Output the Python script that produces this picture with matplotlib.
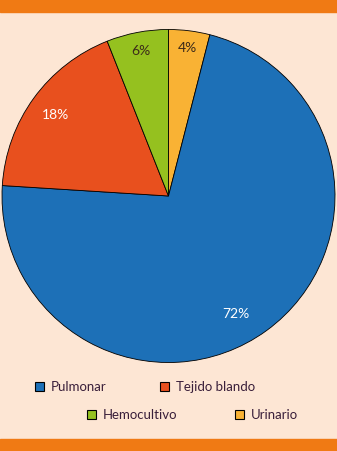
import numpy as np
import matplotlib.pyplot as plt
from matplotlib.patches import Rectangle

# --- datos ---
categorias = ['Urinario', 'Pulmonar', 'Tejido blando', 'Hemocultivo']
valores = [4, 72, 18, 6]
colores = ['#f9b234', '#1d70b7', '#e8501e', '#95c11f']
color_texto = ['#3b2a1a', 'white', 'white', '#3b2a1a']
radio_texto = [0.90, 0.81, 0.84, 0.89]
giro_texto = [0, -6, 0, 0]   # pequeño ajuste angular de la etiqueta

orden_leyenda = ['Pulmonar', 'Tejido blando', 'Hemocultivo', 'Urinario']

fondo = '#fde6d4'
naranja = '#f07a14'
plt.rcParams['font.family'] = ['Lato', 'DejaVu Sans']

W, H = 337, 452
fig = plt.figure(figsize=(W / 100, H / 100), dpi=100, facecolor=fondo)

# bandas naranjas arriba y abajo
fig.patches.append(Rectangle((0, 1 - 13 / H), 1, 13 / H, transform=fig.transFigure,
                             color=naranja, zorder=0))
fig.patches.append(Rectangle((0, 0), 1, 12 / H, transform=fig.transFigure,
                             color=naranja, zorder=0))

# --- pastel ---
cx, cy, r = 168.5, 197, 166.5
ax = fig.add_axes([(cx - r) / W, (H - cy - r) / H, 2 * r / W, 2 * r / H])
wedges, _ = ax.pie(valores, colors=colores, startangle=90, counterclock=False,
                   radius=1.0, wedgeprops=dict(edgecolor='black', linewidth=0.6))
ax.set_xlim(-1, 1)
ax.set_ylim(-1, 1)
ax.set_aspect('equal')
ax.axis('off')

for w, v, c, rt, g in zip(wedges, valores, color_texto, radio_texto, giro_texto):
    ang = np.deg2rad((w.theta1 + w.theta2) / 2 + g)
    ax.text(rt * np.cos(ang), rt * np.sin(ang), f'{v}%', color=c,
            ha='center', va='center', fontsize=10)

# --- leyenda ---
pos_leyenda = [(35, 387), (160, 387), (87, 415), (235, 415)]
for nombre, (x, y) in zip(orden_leyenda, pos_leyenda):
    col = colores[categorias.index(nombre)]
    fig.patches.append(Rectangle((x / W, (H - y - 4.5) / H), 9 / W, 9 / H,
                                 transform=fig.transFigure, facecolor=col,
                                 edgecolor='black', linewidth=0.8))
    fig.text((x + 16) / W, (H - y) / H, nombre, color='#3a1f3a',
             ha='left', va='center', fontsize=9.5)

fig.savefig('out.png', dpi=100, facecolor=fondo)
